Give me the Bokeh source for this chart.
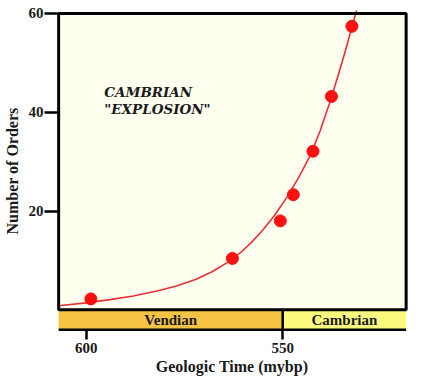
from bokeh.plotting import figure
from bokeh.models import Range1d, FixedTicker
from bokeh.core.properties import value
from bokeh.embed import file_html
from bokeh.resources import INLINE

# ---- data ----
orders_age = [598.8, 562.8, 550.6, 547.3, 542.3, 537.6, 532.4]
orders_count = [2.2, 10.4, 18.0, 23.3, 32.1, 43.2, 57.4]

fit_age = [607, 600, 594, 588, 582, 577, 572, 568, 564, 561, 558, 555, 552,
           549, 546, 543, 540.5, 538, 536, 534, 532, 530.5]
fit_count = [0.8, 1.4, 2.05, 2.8, 3.8, 4.8, 6.2, 7.7, 9.6, 11.4, 13.6, 16.2, 19.2,
             22.7, 26.7, 31.2, 36.2, 42.0, 47.2, 52.6, 58.3, 62.8]

period_names = ["Vendian", "Cambrian"]
period_start = [607, 550]
period_end = [550, 518.6]

note_lines = ["CAMBRIAN", '"EXPLOSION"']

y_ticks = [20, 40, 60]
x_ticks = [600, 550]
y_max = 60

# ---- style ----
FONT = "Liberation Serif"
NOTE_FONT = "DejaVu Serif"
TXT = "#1a1a1a"
IVORY = "#FFFFF0"
PERIOD_COLORS = ["#F6C444", "#FCFA7E"]
RED = "#FF1010"
CURVE = "#E8303A"
BAND_BOTTOM = -4.05
NOTE_X = 595.4
NOTE_Y = [44.05, 40.7]

p = figure(width=432, height=380,
           x_range=Range1d(607.8, 518.0), y_range=Range1d(-4.4, 60.6),
           output_backend="svg", toolbar_location=None,
           min_border_left=51, min_border_right=24, min_border_top=10,
           min_border_bottom=49)
p.outline_line_color = None
p.grid.visible = False
p.background_fill_color = "white"
p.border_fill_color = "white"

x_lo, x_hi = period_start[0], period_end[-1]

# plot area fill
p.quad(left=[x_lo], right=[x_hi], bottom=[0], top=[y_max],
       fill_color=IVORY, line_color=None)

# period band
p.quad(left=period_start, right=period_end, bottom=BAND_BOTTOM, top=0,
       fill_color=PERIOD_COLORS, line_color=None)
p.text(x=[(a + b) / 2 for a, b in zip(period_start, period_end)],
       y=[BAND_BOTTOM / 2] * len(period_names), text=period_names,
       text_font=value(FONT), text_font_style="bold", text_font_size="15px",
       text_color=TXT, text_align="center", text_baseline="middle")

# fitted curve
p.line(fit_age, fit_count, line_color=CURVE, line_width=1.6)

# frame outline
p.quad(left=[x_lo], right=[x_hi], bottom=[0], top=[y_max],
       fill_color=None, line_color="black", line_width=3)
p.segment(x0=period_end[:-1], y0=[0] * (len(period_end) - 1),
          x1=period_end[:-1], y1=[BAND_BOTTOM] * (len(period_end) - 1),
          line_color="black", line_width=2.5)
p.line([x_lo, x_hi], [BAND_BOTTOM, BAND_BOTTOM], line_color="black", line_width=2.5)

# data points
p.scatter(orders_age, orders_count, marker="circle", size=12,
          fill_color=RED, line_color=RED)

# annotation
p.text(x=[NOTE_X] * len(note_lines), y=NOTE_Y, text=note_lines,
       text_font=value(NOTE_FONT), text_font_style="bold italic", text_font_size="13.5px",
       text_color=TXT, text_align="left", text_baseline="alphabetic")

# axes
yax = p.yaxis[0]
yax.ticker = FixedTicker(ticks=y_ticks)
yax.axis_line_color = None
yax.major_tick_out = 11
yax.major_tick_in = 3
yax.major_tick_line_width = 2.5
yax.major_tick_line_color = "black"
yax.minor_tick_line_color = None
yax.major_label_standoff = 1
yax.major_label_text_font = FONT
yax.major_label_text_font_style = "bold"
yax.major_label_text_font_size = "15px"
yax.major_label_text_color = TXT
yax.axis_label = "Number of Orders"
yax.axis_label_text_font = FONT
yax.axis_label_text_font_style = "bold"
yax.axis_label_text_font_size = "16px"
yax.axis_label_text_color = TXT
yax.axis_label_standoff = 5

xax = p.xaxis[0]
xax.ticker = FixedTicker(ticks=x_ticks)
xax.axis_line_color = None
xax.major_tick_out = 8
xax.major_tick_in = 2
xax.major_tick_line_width = 2.5
xax.major_tick_line_color = "black"
xax.minor_tick_line_color = None
xax.major_label_standoff = 3
xax.major_label_text_font = FONT
xax.major_label_text_font_style = "bold"
xax.major_label_text_font_size = "15px"
xax.major_label_text_color = TXT
xax.axis_label = "Geologic Time (mybp)"
xax.axis_label_text_font = FONT
xax.axis_label_text_font_style = "bold"
xax.axis_label_text_font_size = "16px"
xax.axis_label_text_color = TXT
xax.axis_label_standoff = 2

open("out.html", "w").write(file_html(p, INLINE))
